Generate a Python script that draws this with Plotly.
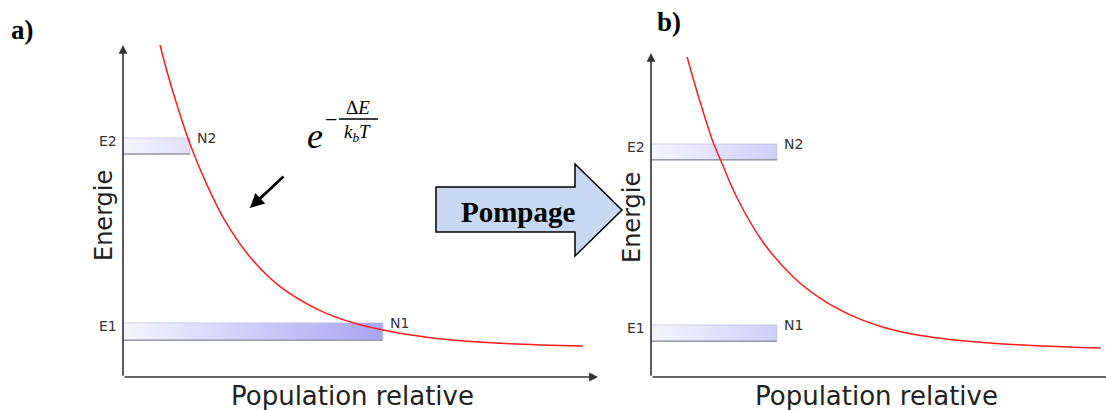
import plotly.graph_objects as go

W, H = 1106, 410

# ---------------- data ----------------
# panel a) thermal equilibrium
pop_a = [7.8, 9.5, 11.4, 14.1, 17.7, 21.5, 26.7, 33.1, 41.5, 48.8, 58.3, 68.8, 81.5, 96.8]
ene_a = [100.0, 90.8, 81.8, 70.2, 57.8, 47.0, 36.2, 27.2, 20.0, 16.2, 13.2, 11.2, 10.0, 9.3]
# panel b) after pumping
pop_b = [7.6, 10.3, 13.1, 14.7, 18.1, 23.6, 29.9, 35.5, 41.9, 48.2, 55.2, 65.7, 73.5, 94.7]
ene_b = [96.4, 83.0, 70.6, 65.2, 54.0, 40.6, 30.2, 23.8, 18.7, 15.3, 12.9, 10.9, 10.0, 8.7]

levels = ["E1", "E2"]
pops = ["N1", "N2"]
level_bottom_a = [11.1, 67.2]
level_top_a = [16.3, 72.0]
level_pop_a = [54.7, 14.1]
level_bottom_b = [10.8, 65.4]
level_top_b = [15.7, 70.2]
level_pop_b = [26.5, 26.5]

x_title = "Population relative"
y_title = "Energie"

# ---------------- helpers ----------------
def P(px, py):
    return px / W, 1 - py / H

AX = "#333333"
BAR_SCALE = [[0, "#f5f5fe"], [1, "#a8a4f4"]]

fig = go.Figure()

def add_panel(xr, yr, pop, ene, bots, tops, widths):
    for b, t, w, lv, pn in zip(bots, tops, widths, levels, pops):
        fig.add_trace(go.Scatter(
            x=[0, w, w, 0, 0], y=[b, b, t, t, b], xaxis=xr, yaxis=yr,
            mode="lines", fill="toself",
            fillgradient=dict(type="horizontal", colorscale=BAR_SCALE, start=0, stop=55),
            line=dict(color="rgba(180,180,225,0.6)", width=1),
            hoverinfo="skip", showlegend=False))
        fig.add_trace(go.Scatter(
            x=[0, w], y=[b, b], xaxis=xr, yaxis=yr, mode="lines",
            line=dict(color="#9a9aaa", width=1.5),
            hoverinfo="skip", showlegend=False))
        fig.add_annotation(x=0, y=t, xref=xr, yref=yr, text=lv, showarrow=False,
                           xanchor="right", yanchor="middle", xshift=-4, yshift=-3,
                           font=dict(family="DejaVu Sans", size=14, color=AX))
        fig.add_annotation(x=w, y=t, xref=xr, yref=yr, text=pn, showarrow=False,
                           xanchor="left", yanchor="middle", xshift=5, yshift=0,
                           font=dict(family="DejaVu Sans", size=14, color=AX))
    fig.add_trace(go.Scatter(
        x=pop, y=ene, xaxis=xr, yaxis=yr, mode="lines",
        line=dict(color="#ff1a1a", width=1.5, shape="spline", smoothing=1.0),
        hoverinfo="skip", showlegend=False, cliponaxis=False))

add_panel("x", "y", pop_a, ene_a, level_bottom_a, level_top_a, level_pop_a)
add_panel("x2", "y2", pop_b, ene_b, level_bottom_b, level_top_b, level_pop_b)

ax_common = dict(showgrid=False, zeroline=False, showticklabels=False, ticks="",
                 fixedrange=True, showline=False)

fig.update_layout(
    width=W, height=H, margin=dict(l=0, r=0, t=0, b=0),
    paper_bgcolor="white", plot_bgcolor="white", showlegend=False,
    xaxis=dict(domain=[123 / W, 598 / W], range=[0, 100], **ax_common),
    yaxis=dict(domain=[1 - 377 / H, 1 - 45 / H], range=[0, 100], **ax_common),
    xaxis2=dict(domain=[651 / W, 1.0], range=[0, 455 / 4.75], anchor="y2", **ax_common),
    yaxis2=dict(domain=[1 - 377 / H, 1 - 53 / H], range=[0, 324 / 3.32], anchor="x2", **ax_common),
)

# axes with arrows
def axis_arrow(xref, yref, x, y, head=2):
    fig.add_annotation(x=x, y=y, ax=0, ay=0, xref=xref, yref=yref, axref=xref, ayref=yref,
                       text="", showarrow=True, arrowhead=head, arrowsize=1.1,
                       arrowwidth=1.6, arrowcolor=AX, standoff=0, startstandoff=0)

axis_arrow("x", "y", 0, 100)
axis_arrow("x", "y", 100, 0)
axis_arrow("x2", "y2", 0, 324 / 3.32)
axis_arrow("x2", "y2", 455 / 4.75, 0, head=0)

# axis titles
for cx, cy in [(104, 216), (632, 218)]:
    x, y = P(cx, cy)
    fig.add_annotation(x=x, y=y, xref="paper", yref="paper", text=y_title, textangle=-90,
                       showarrow=False, xanchor="center", yanchor="middle",
                       font=dict(family="DejaVu Sans", size=24, color="#222"))
for cx, cy in [(352, 396), (876, 396)]:
    x, y = P(cx, cy)
    fig.add_annotation(x=x, y=y, xref="paper", yref="paper", text=x_title,
                       showarrow=False, xanchor="center", yanchor="middle",
                       font=dict(family="DejaVu Sans", size=26, color="#222"))

# panel letters
for t, cx, cy in [("a)", 22, 30), ("b)", 669, 22)]:
    x, y = P(cx, cy)
    fig.add_annotation(x=x, y=y, xref="paper", yref="paper", text="<b>%s</b>" % t,
                       showarrow=False, xanchor="center", yanchor="middle",
                       font=dict(family="Liberation Serif", size=27, color="black"))

# Boltzmann formula
SER = "Liberation Serif"
x, y = P(315, 136)
fig.add_annotation(x=x, y=y, xref="paper", yref="paper", text="<i>e</i>", showarrow=False,
                   xanchor="center", yanchor="middle", font=dict(family=SER, size=36, color="black"))
x, y = P(331, 119)
fig.add_annotation(x=x, y=y, xref="paper", yref="paper", text="−", showarrow=False,
                   xanchor="center", yanchor="middle", font=dict(family=SER, size=22, color="black"))
x, y = P(358, 107)
fig.add_annotation(x=x, y=y, xref="paper", yref="paper", text="Δ<i>E</i>", showarrow=False,
                   xanchor="center", yanchor="middle", font=dict(family=SER, size=19, color="black"))
x, y = P(357, 133)
fig.add_annotation(x=x, y=y, xref="paper", yref="paper",
                   text="<i>k</i><sub><i>b</i></sub><i>T</i>",
                   showarrow=False, xanchor="center", yanchor="middle",
                   font=dict(family=SER, size=19, color="black"))
x0, y0 = P(339, 119)
x1, y1 = P(378, 119)
fig.add_shape(type="line", xref="paper", yref="paper", x0=x0, y0=y0, x1=x1, y1=y1,
              line=dict(color="black", width=1.5))

# pointer arrow
fig.add_annotation(x=26.7, y=50.9, ax=34.1, ay=60.8, xref="x", yref="y", axref="x", ayref="y",
                   text="", showarrow=True, arrowhead=2, arrowsize=1.1, arrowwidth=2.6,
                   arrowcolor="black", standoff=0)

# Pompage block arrow
pts = [(436, 187), (575, 187), (575, 164), (622, 210), (575, 256), (575, 232), (436, 232)]
path = "M " + " L ".join("%.5f,%.5f" % P(a, b) for a, b in pts) + " Z"
fig.add_shape(type="path", xref="paper", yref="paper", path=path,
              fillcolor="#c6d9f1", line=dict(color="black", width=1.5))
x, y = P(518, 212)
fig.add_annotation(x=x, y=y, xref="paper", yref="paper", text="<b>Pompage</b>", showarrow=False,
                   xanchor="center", yanchor="middle", font=dict(family=SER, size=29, color="black"))

fig.write_html("out.html", config={"displayModeBar": False},
               post_script="document.body.style.margin='0px';document.body.style.padding='0px';")
